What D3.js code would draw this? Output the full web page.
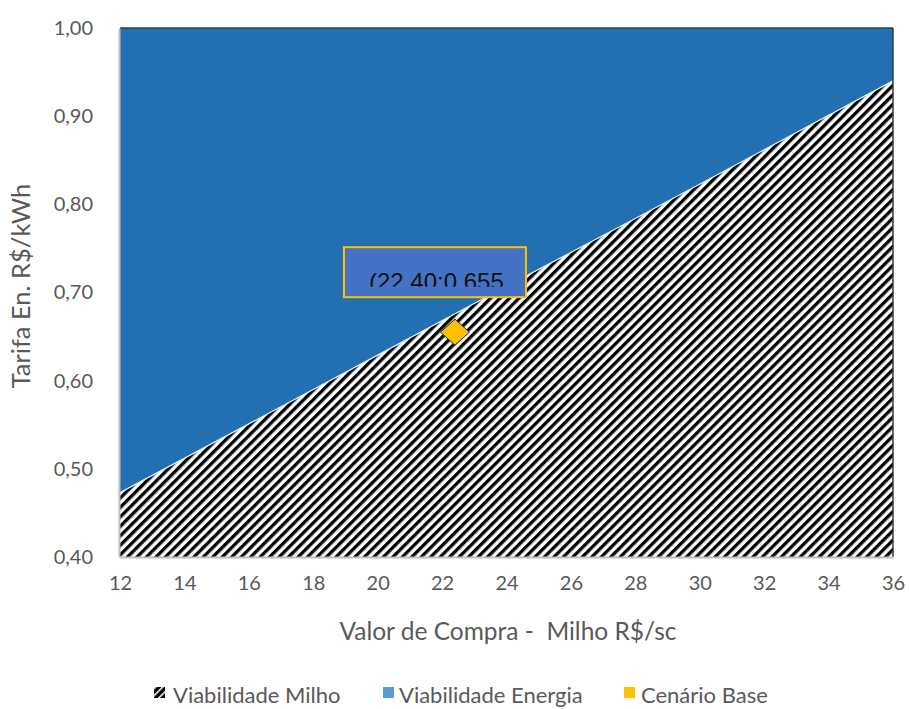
<!DOCTYPE html>
<html>
<head>
<meta charset="utf-8">
<script src="https://cdn.jsdelivr.net/npm/d3@7"></script>
<style>
  html, body { margin: 0; padding: 0; background: #ffffff; }
  svg { display: block; }
</style>
</head>
<body>
<svg id="chart" width="909" height="709"></svg>
<script>
// Purchase price of corn (R$/sc) and the tariff limit where both options break even
const precoMilho = [12, 16, 20, 24, 28, 32, 36];
const tarifaLimite = [0.473, 0.551, 0.629, 0.707, 0.784, 0.862, 0.940];

// Base scenario
const cenarioBase = { preco: 22.40, tarifa: 0.655 };
const rotuloCenario = "(22.40:0.655";

// Axis ticks
const xTicks = [12, 14, 16, 18, 20, 22, 24, 26, 28, 30, 32, 34, 36];
const yTicks = [0.40, 0.50, 0.60, 0.70, 0.80, 0.90, 1.00];

// Legend entries
const legenda = ["Viabilidade Milho", "Viabilidade Energia", "Cenário Base"];

const svg = d3.select("#chart");
const plot = { left: 120, right: 893, top: 28, bottom: 557 };

const x = d3.scaleLinear().domain([12, 36]).range([plot.left, plot.right]);
const y = d3.scaleLinear().domain([0.40, 1.00]).range([plot.bottom, plot.top]);

const fontFam = "Lato, 'Open Sans', sans-serif";
const textGrey = "#595959";

// Diagonal hatch used for the corn-viability region
const defs = svg.append("defs");
const hatch = defs.append("pattern")
  .attr("id", "hatch")
  .attr("patternUnits", "userSpaceOnUse")
  .attr("width", 6.7).attr("height", 6.7)
  .attr("patternTransform", "rotate(45)");
hatch.append("rect").attr("width", 6.7).attr("height", 6.7).attr("fill", "#ffffff");
hatch.append("rect").attr("x", 0).attr("y", 0).attr("width", 3.3).attr("height", 6.7).attr("fill", "#000000");

const legendHatch = defs.append("pattern")
  .attr("id", "hatchSmall")
  .attr("patternUnits", "userSpaceOnUse")
  .attr("width", 5).attr("height", 5)
  .attr("patternTransform", "rotate(45)");
legendHatch.append("rect").attr("width", 5).attr("height", 5).attr("fill", "#000000");
legendHatch.append("rect").attr("width", 1.6).attr("height", 5).attr("fill", "#ffffff");

// Energy viability: everything above the break-even line
svg.append("rect")
  .attr("x", x(12)).attr("y", y(1.0))
  .attr("width", x(36) - x(12)).attr("height", y(0.4) - y(1.0))
  .attr("fill", "#2270b1");

// Corn viability: area below the break-even line
const pts = precoMilho.map((p, i) => [p, tarifaLimite[i]]);
const area = d3.area()
  .x(d => x(d[0]))
  .y0(y(0.40))
  .y1(d => y(d[1]));
svg.append("path")
  .datum(pts)
  .attr("d", area)
  .attr("fill", "url(#hatch)");

// Thin light edge along the break-even line
svg.append("path")
  .datum(pts)
  .attr("d", d3.line().x(d => x(d[0])).y(d => y(d[1])))
  .attr("fill", "none")
  .attr("stroke", "#e8eef5")
  .attr("stroke-width", 1.2);

// Plot frame
svg.append("line")
  .attr("x1", x(12)).attr("x2", x(36)).attr("y1", y(1.0)).attr("y2", y(1.0))
  .attr("stroke", "#2b3f55").attr("stroke-width", 1.5);
svg.append("line")
  .attr("x1", x(36)).attr("x2", x(36)).attr("y1", y(1.0)).attr("y2", y(0.4))
  .attr("stroke", "#3a3a3a").attr("stroke-width", 1.5);

// Axes
const xAxis = d3.axisBottom(x).tickValues(xTicks).tickSize(0).tickPadding(19)
  .tickFormat(d3.format("d"));
const gx = svg.append("g").attr("transform", `translate(0,${plot.bottom})`).call(xAxis);
gx.select(".domain").attr("stroke", "#bfbfbf").attr("stroke-width", 2);
gx.selectAll("text").attr("fill", textGrey).attr("font-family", fontFam).attr("font-size", 20);

const fmtY = d => d3.format(".2f")(d).replace(".", ",");
const yAxis = d3.axisLeft(y).tickValues(yTicks).tickSize(0).tickPadding(26).tickFormat(fmtY);
const gy = svg.append("g").attr("transform", `translate(${plot.left - 1},0)`).call(yAxis);
gy.select(".domain").attr("stroke", "#bfbfbf").attr("stroke-width", 2);
gy.selectAll("text").attr("fill", textGrey).attr("font-family", fontFam).attr("font-size", 20);

// Axis titles
svg.append("text")
  .attr("x", 508).attr("y", 640)
  .attr("text-anchor", "middle")
  .attr("fill", textGrey).attr("font-family", fontFam).attr("font-size", 24.5)
  .attr("xml:space", "preserve")
  .text("Valor de Compra -  Milho R$/sc");
svg.append("text")
  .attr("transform", "translate(30,286) rotate(-90)")
  .attr("text-anchor", "middle")
  .attr("fill", textGrey).attr("font-family", fontFam).attr("font-size", 25.5)
  .text("Tarifa En. R$/kWh");

// Base scenario label box
const box = { x: x(cenarioBase.preco) - 111, y: y(cenarioBase.tarifa) - 85, w: 182, h: 50 };
svg.append("rect")
  .attr("x", box.x).attr("y", box.y).attr("width", box.w).attr("height", box.h)
  .attr("fill", "#4472c4").attr("stroke", "#ffc000").attr("stroke-width", 2);
defs.append("clipPath").attr("id", "boxClip")
  .append("rect").attr("x", box.x).attr("y", box.y).attr("width", box.w).attr("height", 39.5);
svg.append("text")
  .attr("x", box.x + 25).attr("y", box.y + 42.5)
  .attr("clip-path", "url(#boxClip)")
  .attr("fill", "#111111")
  .attr("font-family", "'Liberation Sans', Arial, sans-serif")
  .attr("font-size", 24)
  .text(rotuloCenario);

// Base scenario marker
const mx = x(cenarioBase.preco), my = y(cenarioBase.tarifa);
svg.append("path")
  .attr("d", `M${mx},${my - 13} L${mx + 14.5},${my} L${mx},${my + 13} L${mx - 14.5},${my} Z`)
  .attr("fill", "#ffc000").attr("stroke", "#262626").attr("stroke-width", 1);

// Legend
const legY = 699;
const legItems = [
  { label: legenda[0], icon: 154, text: 173, fill: "url(#hatchSmall)" },
  { label: legenda[1], icon: 383, text: 399, fill: "#5b9bd5" },
  { label: legenda[2], icon: 624, text: 641, fill: "#ffc000" }
];
legItems.forEach(it => {
  svg.append("rect")
    .attr("x", it.icon).attr("y", legY - 12).attr("width", 11).attr("height", 11)
    .attr("fill", it.fill);
  svg.append("text")
    .attr("x", it.text).attr("y", legY + 4)
    .attr("fill", textGrey).attr("font-family", fontFam).attr("font-size", 22)
    .text(it.label);
});
</script>
</body>
</html>
